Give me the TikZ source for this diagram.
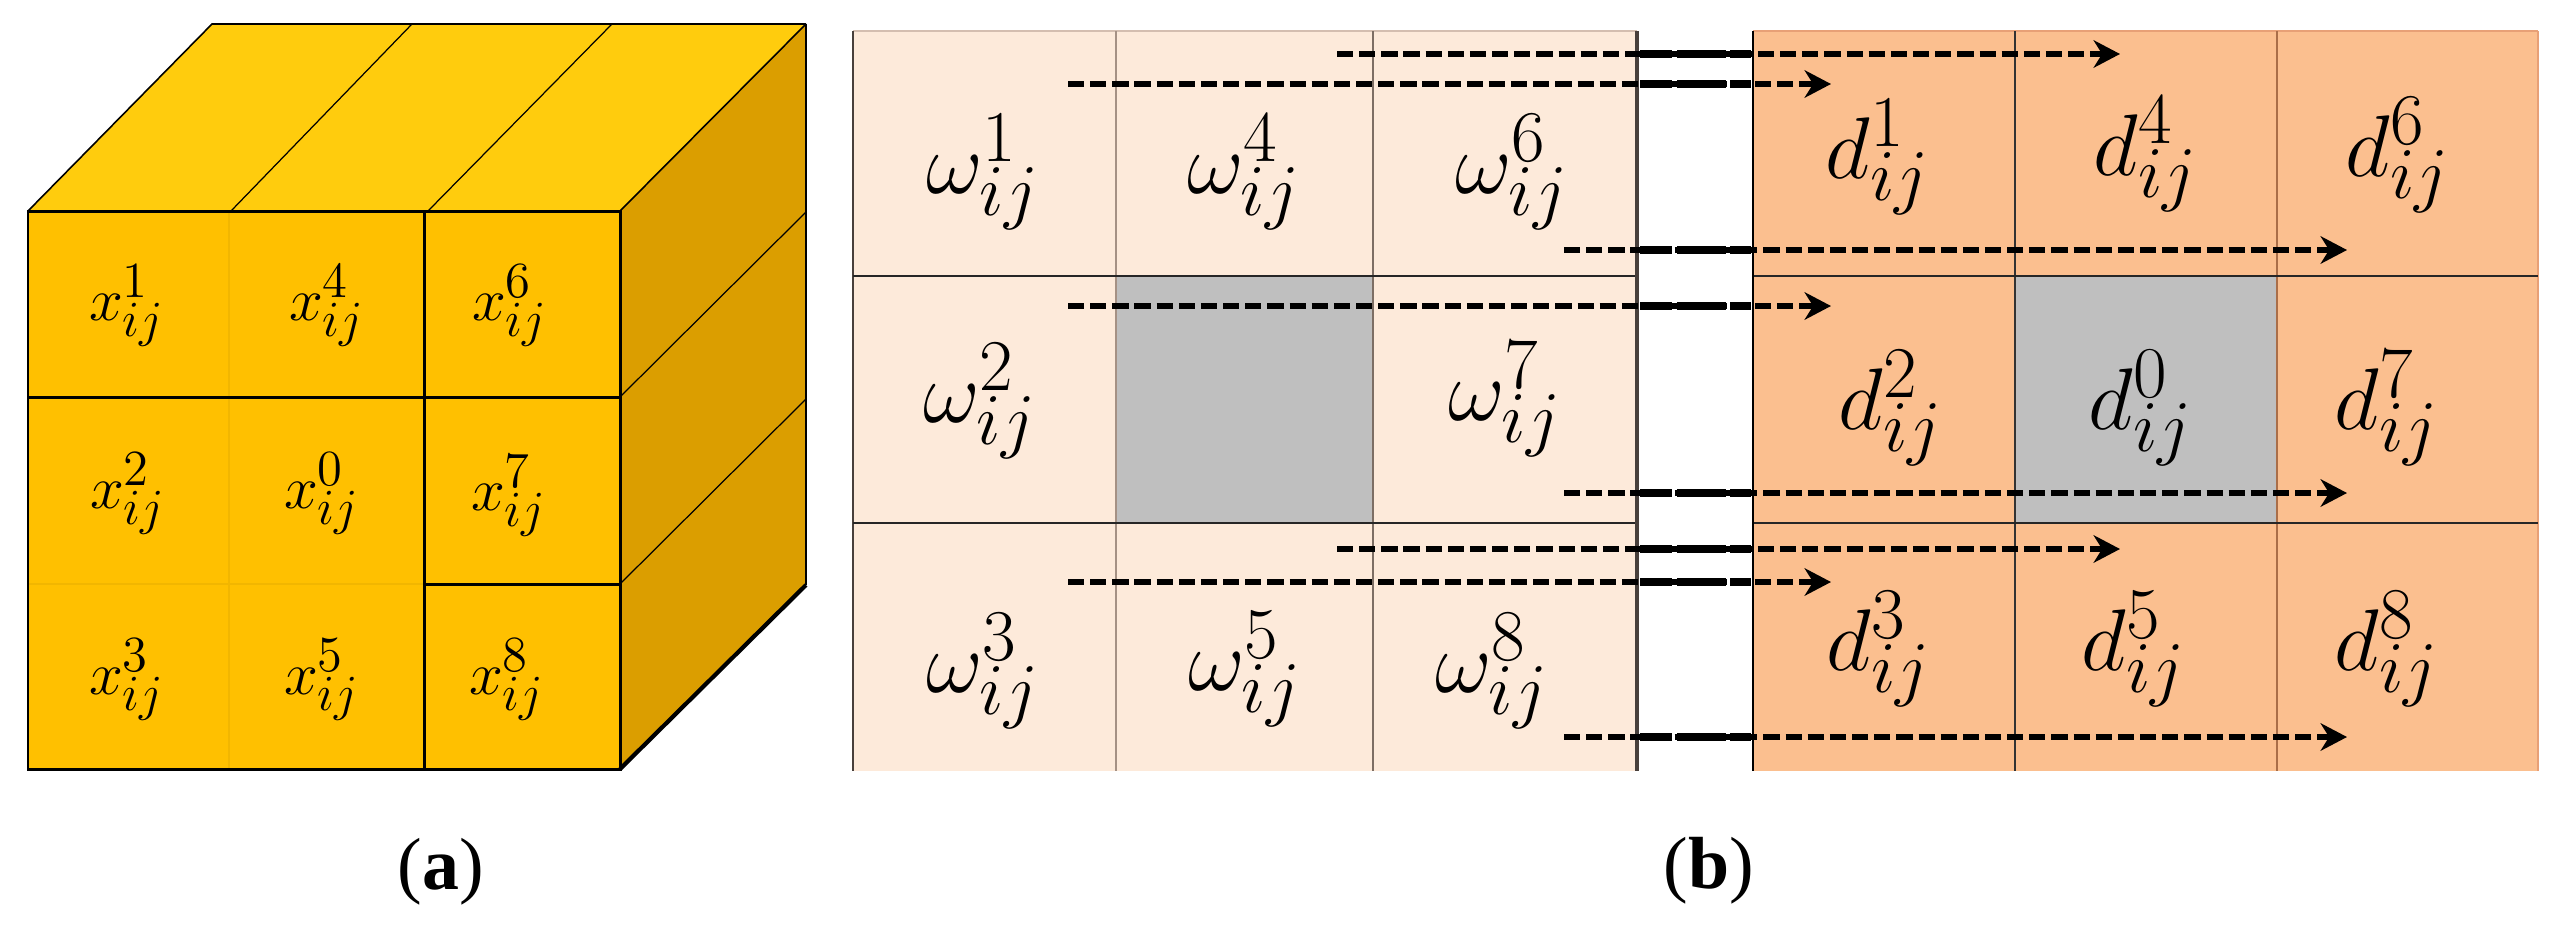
\documentclass[tikz,border=0pt]{standalone}
\usepackage{fontspec}
\setmainfont{Liberation Serif}
\usetikzlibrary{arrows.meta}
\DeclareMathSizes{24.88}{24.88}{20.74}{14.4}
\DeclareMathSizes{17.28}{17.28}{14.4}{10}
\definecolor{cubefront}{RGB}{255,192,0}
\definecolor{cubetop}{RGB}{255,204,13}
\definecolor{cuberight}{RGB}{219,158,0}
\definecolor{cubefaint}{RGB}{242,182,0}
\definecolor{wfill}{RGB}{253,234,218}
\definecolor{dfill}{RGB}{251,191,143}
\definecolor{cellgray}{RGB}{191,191,191}
\definecolor{wtop}{RGB}{212,190,176}
\definecolor{wline}{RGB}{165,145,132}
\definecolor{wline2}{RGB}{125,110,100}
\definecolor{wedge}{RGB}{72,64,60}
\definecolor{dline}{RGB}{170,110,72}
\definecolor{dedge}{RGB}{232,160,118}
\tikzset{
  wlab/.style={inner sep=0pt, font=\fontsize{24.88}{28}\selectfont},
  xlab/.style={inner sep=0pt, font=\fontsize{17.28}{20}\selectfont},
  sublab/.style={inner sep=0pt, font=\fontsize{21}{24}\selectfont},
  darr/.style={line width=1.8pt, dash pattern=on 4.6pt off 1.7pt,
    -{Stealth[length=7.5pt,width=7.8pt,inset=2.4pt]}},
  gapseg/.style={line width=2.0pt, dash pattern=on 9pt off 1.5pt on 14pt off 1.2pt on 40pt off 1pt},
  frontline/.style={black, line width=0.85pt},
  thinedge/.style={black, line width=0.45pt},
}
\begin{document}
\begin{tikzpicture}[x=0.01cm, y=-0.01cm]
\useasboundingbox (0,0) rectangle (2564,930);

% ---------- (a) cube ----------
\fill[cubefront] (28,211) rectangle (620,769);
\fill[cubetop] (28,211) -- (212,24) -- (806,24) -- (620,211) -- cycle;
\fill[cuberight] (620,211) -- (806,24) -- (806,585) -- (620,769) -- cycle;
% faint divisions on the front
\draw[cubefaint, line width=0.6pt] (229,211) -- (229,769);
\draw[cubefaint, line width=0.6pt] (28,584) -- (424,584);
% black divisions on the front
\draw[frontline] (28,397) -- (620,397);
\draw[frontline] (424,584) -- (620,584);
\draw[frontline] (424,211) -- (424,769);
\draw[frontline] (28,211) rectangle (620,769);
% top face
\draw[thinedge] (28,211) -- (212,24) -- (806,24);
\draw[thinedge] (620,211) -- (806,24);
\draw[black, line width=0.35pt] (231,211) -- (412,24);
\draw[black, line width=0.35pt] (428,211) -- (612,24);
% right face
\draw[black, line width=0.6pt] (806,24) -- (806,585);
\draw[black, line width=0.35pt] (620,397) -- (806,212);
\draw[black, line width=0.35pt] (620,584) -- (806,399);
\draw[black, line width=1.2pt] (620,769) -- (806,585);

\node[xlab] (x1) at (127,306) {$x^{1}_{ij}$};
\node[xlab] (x4) at (327,306) {$x^{4}_{ij}$};
\node[xlab] (x6) at (510,306) {$x^{6}_{ij}$};
\node[xlab] (x2) at (128,494) {$x^{2}_{ij}$};
\node[xlab] (x0) at (322,494) {$x^{0}_{ij}$};
\node[xlab] (x7) at (509,496) {$x^{7}_{ij}$};
\node[xlab] (x3) at (127,680) {$x^{3}_{ij}$};
\node[xlab] (x5) at (322,680) {$x^{5}_{ij}$};
\node[xlab] (x8) at (507,680) {$x^{8}_{ij}$};

\node[sublab] (capa) at (441,872) {(\textbf{a})};

% ---------- (b) left grid ----------
\fill[wfill] (853,31) rectangle (1637,771);
\fill[cellgray] (1116,276) rectangle (1373,523);
\draw[wtop, line width=0.5pt] (853,31) -- (1637,31);
\draw[wedge, line width=0.5pt] (853,31) -- (853,771);
\draw[wline, line width=0.45pt] (1116,31) -- (1116,771);
\draw[wline2, line width=0.8pt] (1373,31) -- (1373,771);
\draw[black!85, line width=0.5pt] (853,276) -- (1637,276);
\draw[black!85, line width=0.5pt] (853,523) -- (1637,523);
\draw[wedge, line width=1.1pt] (1637,31) -- (1637,771);

% ---------- (b) right grid ----------
\fill[dfill] (1753,31) rectangle (2538,771);
\fill[cellgray] (2015,276) rectangle (2277,523);
\draw[dedge, line width=0.5pt] (1753,31) -- (2538,31);
\draw[dedge, line width=0.6pt] (2538,31) -- (2538,771);
\draw[black!80, line width=0.5pt] (2015,31) -- (2015,771);
\draw[dline, line width=0.6pt] (2277,31) -- (2277,771);
\draw[black!85, line width=0.5pt] (1753,276) -- (2538,276);
\draw[black!85, line width=0.5pt] (1753,523) -- (2538,523);
\draw[black, line width=0.6pt] (1753,31) -- (1753,771);

% labels
\node[wlab] (w1) at (983,172) {$\omega^{1}_{ij}$};
\node[wlab] (w4) at (1244,172) {$\omega^{4}_{ij}$};
\node[wlab] (w6) at (1512,172) {$\omega^{6}_{ij}$};
\node[wlab] (w2) at (980,401) {$\omega^{2}_{ij}$};
\node[wlab] (w7) at (1505,399) {$\omega^{7}_{ij}$};
\node[wlab] (w3) at (983,671) {$\omega^{3}_{ij}$};
\node[wlab] (w5) at (1245,669) {$\omega^{5}_{ij}$};
\node[wlab] (w8) at (1492,671) {$\omega^{8}_{ij}$};

\node[wlab] (d1) at (1878,157) {$d^{1}_{ij}$};
\node[wlab] (d4) at (2146,154) {$d^{4}_{ij}$};
\node[wlab] (d6) at (2398,155) {$d^{6}_{ij}$};
\node[wlab] (d2) at (1891,408) {$d^{2}_{ij}$};
\node[wlab] (d0) at (2141,408) {$d^{0}_{ij}$};
\node[wlab] (d7) at (2387,408) {$d^{7}_{ij}$};
\node[wlab] (d3) at (1879,649) {$d^{3}_{ij}$};
\node[wlab] (d5) at (2134,649) {$d^{5}_{ij}$};
\node[wlab] (d8) at (2387,649) {$d^{8}_{ij}$};

% dashed arrows
\foreach \n/\y/\s/\e in {1/54/1337/2120, 2/84/1068/1831, 3/250/1564/2347,
    4/306/1068/1831, 5/493/1564/2347, 6/549/1337/2120, 7/582/1068/1831,
    8/737/1564/2347}{
  \coordinate (s\n) at (\s,\y);
  \coordinate (e\n) at (\e,\y);
  \coordinate (gl\n) at (1640,\y);
  \coordinate (gr\n) at (1751,\y);
  \draw[darr] (s\n) -- (e\n);
  \draw[gapseg] (gl\n) -- (gr\n);
}

\node[sublab] (capb) at (1709,871) {(\textbf{b})};
\end{tikzpicture}
\end{document}
